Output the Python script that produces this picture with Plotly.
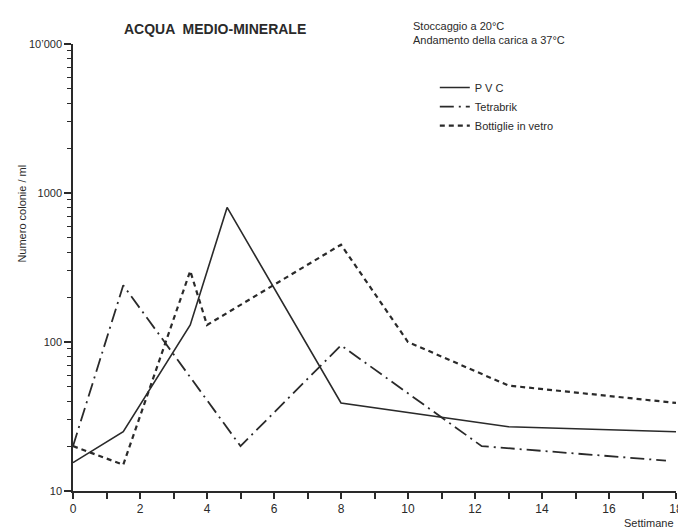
import plotly.graph_objects as go

# ---- data ----
weeks_pvc = [0, 1.5, 3.5, 4.6, 8, 13, 18]
pvc = [15.5, 25, 130, 800, 39, 27, 25]

weeks_tetra = [0, 1.5, 5, 8, 12.2, 17.7]
tetra = [20, 240, 20, 95, 20, 16]

weeks_glass = [0, 1.5, 3.5, 4.0, 8, 10, 13, 18]
glass = [20, 15, 300, 130, 450, 100, 51, 39]

x_ticks = [0, 2, 4, 6, 8, 10, 12, 14, 16, 18]
y_tickvals = [10, 100, 1000, 10000]
y_ticktext = ["10", "100", "1000", "10\u2019000"]

series_names = ["P V C", "Tetrabrik", "Bottiglie in vetro"]

ink = "#2a2a2a"
font_family = "Liberation Sans, Arial, sans-serif"

fig = go.Figure()
fig.add_trace(go.Scatter(x=weeks_pvc, y=pvc, mode="lines", name=series_names[0],
                         line=dict(color=ink, width=1.6)))
fig.add_trace(go.Scatter(x=weeks_tetra, y=tetra, mode="lines", name=series_names[1],
                         line=dict(color=ink, width=1.8, dash="14px,5px,2px,5px")))
fig.add_trace(go.Scatter(x=weeks_glass, y=glass, mode="lines", name=series_names[2],
                         line=dict(color=ink, width=2.2, dash="5px,4px")))

fig.update_layout(
    width=686, height=531,
    margin=dict(l=65, r=11, t=36, b=48),
    paper_bgcolor="white", plot_bgcolor="white",
    font=dict(family=font_family, color=ink, size=11),
    showlegend=True,
    legend=dict(x=0.6, y=0.935, xanchor="left", yanchor="top",
                bgcolor="rgba(0,0,0,0)", font=dict(size=11),
                itemwidth=30, tracegroupgap=0),
    xaxis=dict(range=[0, 18], tickvals=x_ticks, ticks="outside", ticklen=6,
               tickwidth=1.5, tickcolor=ink, showline=True, linecolor=ink,
               linewidth=1.5, showgrid=False, zeroline=False,
               tickfont=dict(size=12),
               minor=dict(dtick=1, ticks="outside", ticklen=6, tickwidth=1.5,
                          tickcolor=ink, showgrid=False)),
    yaxis=dict(type="log", range=[1, 4], tickvals=y_tickvals, ticktext=y_ticktext,
               ticks="outside", ticklen=7, tickwidth=1.5, tickcolor=ink,
               showline=True, linecolor=ink, linewidth=1.5, showgrid=False,
               zeroline=False, tickfont=dict(size=11),
               minor=dict(dtick="D1", ticks="outside", ticklen=4, tickwidth=1.3,
                          tickcolor=ink, showgrid=False)),
    annotations=[
        dict(text="<b>ACQUA  MEDIO-MINERALE</b>", xref="paper", yref="paper",
             x=0.235, y=1.0, yshift=15, xanchor="center", yanchor="middle",
             showarrow=False, font=dict(size=14, family=font_family)),
        dict(text="Stoccaggio a 20\u00b0C<br>Andamento della carica a 37\u00b0C",
             xref="paper", yref="paper", x=0.56, y=1.0, yshift=26,
             xanchor="left", yanchor="top", align="left", showarrow=False,
             font=dict(size=11)),
        dict(text="Numero colonie / ml", xref="paper", yref="paper",
             x=-0.085, y=0.62, textangle=-90, showarrow=False,
             xanchor="center", yanchor="middle", font=dict(size=11)),
        dict(text="Settimane", xref="paper", yref="paper", x=1.0, y=0,
             yshift=-32, xanchor="right", yanchor="middle", showarrow=False,
             font=dict(size=11)),
    ],
)

fig.write_html("out.html")
